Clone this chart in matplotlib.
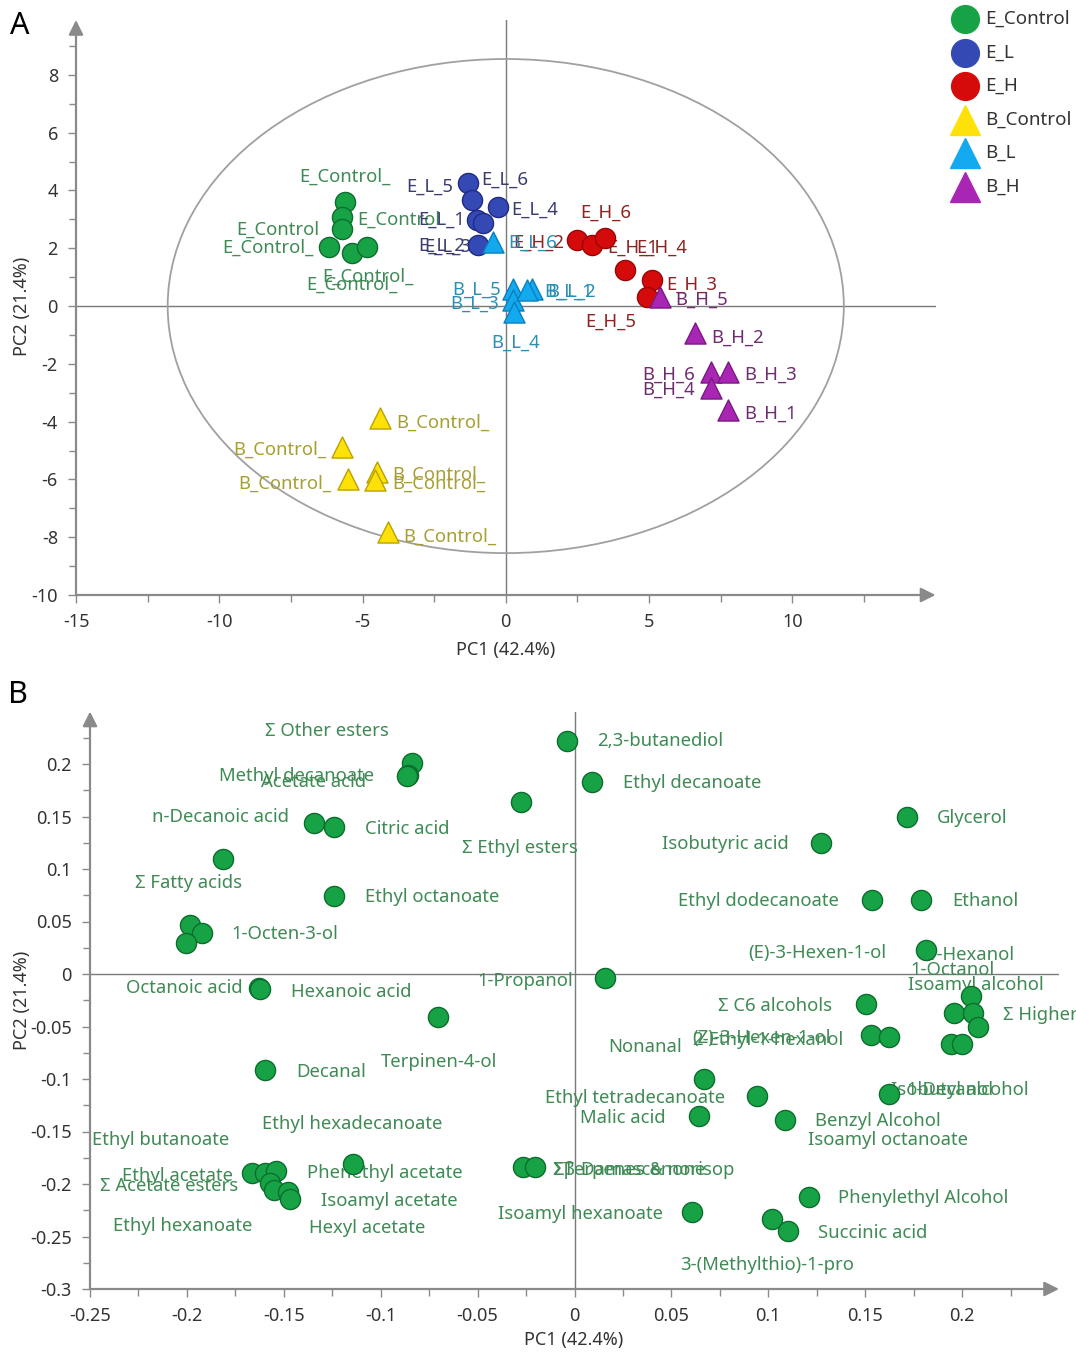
import numpy as np
import matplotlib.pyplot as plt
from matplotlib.lines import Line2D
from matplotlib.patches import Ellipse

plt.rcParams['font.family'] = ['Noto Sans', 'DejaVu Sans']

# ---- Panel A: PCA scores ----
ec_x = [-5.6, -5.7, -5.73, -6.18, -5.37, -4.86]
ec_y = [3.6, 3.08, 2.66, 2.05, 1.83, 2.05]
ec_lab = ['E_Control_', 'E_Control', 'E_Control', 'E_Control_', 'E_Control_', 'E_Control_']

el_x = [-1.33, -1.19, -0.28, -1.0, -0.8, -0.98]
el_y = [4.26, 3.67, 3.43, 2.98, 2.87, 2.11]
el_lab = ['E_L_5', 'E_L_6', 'E_L_4', 'E_L_1', 'E_L_2', 'E_L_3']

eh_x = [2.48, 3.0, 3.46, 4.15, 5.1, 4.92]
eh_y = [2.28, 2.11, 2.35, 1.25, 0.9, 0.31]
eh_lab = ['E_H_2', 'E_H_1', 'E_H_6', 'E_H_4', 'E_H_3', 'E_H_5']

bc_x = [-4.4, -5.72, -5.51, -4.5, -4.57, -4.12]
bc_y = [-3.88, -4.88, -5.99, -5.74, -6.02, -7.82]
bc_lab = ['B_Control_'] * 6

bl_x = [-0.45, 0.25, 0.25, 0.3, 0.9, 0.75]
bl_y = [2.21, 0.6, 0.2, -0.2, 0.6, 0.55]
bl_lab = ['B_L_6', 'B_L_5', 'B_L_3', 'B_L_4', 'B_L_1', 'B_L_2']

bh_x = [5.37, 6.6, 7.18, 7.75, 7.18, 7.75]
bh_y = [0.31, -0.93, -2.28, -2.28, -2.84, -3.6]
bh_lab = ['B_H_5', 'B_H_2', 'B_H_6', 'B_H_3', 'B_H_4', 'B_H_1']

# label offsets (pixels)
ec_off = [(-46, 25), (15, -3), (-105, -1), (-106, -1), (-30, -24), (-60, -38)]
el_off = [(-61, -4), (10, 20), (14, -3), (-59, 0), (-65, -23), (-53, -2)]
eh_off = [(-64, -3), (16, -3), (-25, 25), (12, 22), (14, -5), (-61, -25)]
bc_off = [(17, -5), (-109, -3), (-110, -5), (15, -3), (17, -4), (16, -5)]
bl_off = [(15, -1), (-61, -1), (-63, -3), (-23, -31), (13, -3), (20, -2)]
bh_off = [(16, -3), (16, -5), (-69, -3), (16, -3), (-69, -2), (16, -4)]

# ---- Panel B: loadings ----
ld_names = ['Σ Other esters', 'Methyl decanoate', 'Acetate acid', 'Σ Ethyl esters',
            'n-Decanoic acid', 'Citric acid', 'Σ Fatty acids', 'Ethyl octanoate', '',
            '1-Octen-3-ol', '', 'Octanoic acid', 'Hexanoic acid', 'Terpinen-4-ol',
            'Decanal', 'Ethyl hexadecanoate', 'Ethyl acetate', 'Ethyl butanoate',
            'Phenethyl acetate', 'Σ Acetate esters', 'Ethyl hexanoate', 'Isoamyl acetate',
            'Hexyl acetate', 'Σβ-Damascenone', 'ΣTerpenes & norisop', '2,3-butanediol',
            'Ethyl decanoate', 'Glycerol', 'Isobutyric acid', 'Ethyl dodecanoate',
            'Ethanol', '(E)-3-Hexen-1-ol', '1-Propanol', 'Σ C6 alcohols',
            'Isoamyl alcohol', '1-Octanol', 'Σ Higher alcohols', '1-Hexanol',
            '(Z)-3-Hexen-1-ol', '2-Ethyl-1-hexanol', '1-Decanol', 'Isoamyl octanoate',
            'Nonanal', 'Ethyl tetradecanoate', 'Isobutyl alcohol', 'Malic acid',
            'Benzyl Alcohol', 'Phenylethyl Alcohol', 'Isoamyl hexanoate',
            '3-(Methylthio)-1-pro', 'Succinic acid']
ld_x = [-0.084, -0.086, -0.0862, -0.0277, -0.1342, -0.124, -0.1815, -0.1239, -0.1984,
        -0.1923, -0.2004, -0.1626, -0.1622, -0.0702, -0.1597, -0.1144, -0.1662, -0.1597,
        -0.154, -0.157, -0.1549, -0.148, -0.1468, -0.0264, -0.0203, -0.004,
        0.0092, 0.1714, 0.1272, 0.1534, 0.1789, 0.1816, 0.0157, 0.1506,
        0.2047, 0.1956, 0.2055, 0.2081, 0.1531, 0.1622, 0.1942, 0.1998,
        0.0667, 0.0944, 0.1622, 0.0641, 0.1086, 0.1211, 0.0608, 0.1019, 0.1102]
ld_y = [0.2007, 0.1895, 0.1887, 0.1635, 0.1441, 0.1397, 0.1095, 0.0743, 0.0467,
        0.0387, 0.0298, -0.0137, -0.014, -0.0406, -0.0914, -0.181, -0.1892, -0.1898,
        -0.1873, -0.1993, -0.2057, -0.2073, -0.2146, -0.1835, -0.1841, 0.2222,
        0.1825, 0.1492, 0.1245, 0.0705, 0.0705, 0.0229, -0.0041, -0.0286,
        -0.021, -0.0375, -0.0369, -0.0502, -0.0581, -0.0603, -0.067, -0.067,
        -0.1003, -0.1162, -0.1143, -0.1352, -0.139, -0.2121, -0.2264, -0.2333, -0.2448]
ld_off = [(-147, 32), (-189, -1), (-146, -6), (-59, -46), (-162, 6), (31, -2), (-88, -24),
          (31, -1), (0, 0), (30, -1), (0, 0), (-133, 0), (31, -3), (-58, -45), (31, -2),
          (-91, 40), (-130, -3), (-173, 33), (31, -2), (-170, -3), (-161, -36), (33, -9),
          (19, -29), (30, -3), (18, -3), (30, 0), (31, -1), (30, -1), (-159, -1),
          (-194, -1), (31, -1), (-178, -3), (-128, -3), (-148, -2), (-63, 11), (-43, 43),
          (30, -2), (-51, 72), (-179, -3), (-197, -3), (-45, -46), (-154, -96), (-96, 32),
          (-212, -2), (2, 4), (-119, -2), (30, -1), (29, -1), (-194, -2), (-92, -46),
          (30, -2)]

AXC = '#8a8a8a'
TXT = '#333333'
LFS = 13.3  # point label size


def style_axes(ax):
    for s in ax.spines.values():
        s.set_visible(False)
    ax.axhline(0, color='#7a7a7a', lw=1, zorder=1)
    ax.axvline(0, color='#7a7a7a', lw=1, zorder=1)
    arrow = dict(arrowstyle='-|>', color=AXC, lw=1.6, mutation_scale=22, shrinkA=0, shrinkB=0)
    ax.annotate('', xy=(1, 0), xytext=(0, 0), xycoords='axes fraction', arrowprops=arrow,
                annotation_clip=False, zorder=2)
    ax.annotate('', xy=(0, 1), xytext=(0, 0), xycoords='axes fraction', arrowprops=arrow,
                annotation_clip=False, zorder=2)
    ax.tick_params(which='major', length=6, width=1, color=AXC, labelsize=13,
                   labelcolor=TXT, direction='out', pad=7)
    ax.tick_params(which='minor', length=5, width=1, color=AXC, direction='out')


def draw_group(ax, xs, ys, labs, offs, marker, size, face, edge, tcol):
    ax.scatter(xs, ys, s=size, marker=marker, c=face, edgecolors=edge, linewidths=1, zorder=4)
    for x, y, l, (dx, dy) in zip(xs, ys, labs, offs):
        ax.annotate(l, (x, y), xytext=(dx, dy), textcoords='offset pixels', ha='left',
                    va='center', color=tcol, fontsize=LFS, zorder=3)


fig = plt.figure(figsize=(10.76, 13.55), dpi=100)

# Panel A
ax1 = fig.add_axes([76 / 1076, 1 - 595 / 1355, 859.5 / 1076, 575 / 1355])
ax1.set_xlim(-15, 15)
ax1.set_ylim(-10, 9.9)
style_axes(ax1)
ax1.add_patch(Ellipse((0, 0), 2 * 11.8, 2 * 8.55, fill=False, edgecolor='#a0a0a0', lw=1.3, zorder=1))
ax1.set_xticks([-15, -10, -5, 0, 5, 10])
ax1.set_xticklabels(['-15', '-10', '-5', '0', '5', '10'])
ax1.set_xticks(np.arange(-12.5, 15, 5), minor=True)
ax1.set_yticks([-10, -8, -6, -4, -2, 0, 2, 4, 6, 8])
ax1.set_yticklabels(['-10', '-8', '-6', '-4', '-2', '0', '2', '4', '6', '8'])
ax1.set_yticks(np.arange(-9, 10, 2), minor=True)

draw_group(ax1, ec_x, ec_y, ec_lab, ec_off, 'o', 210, '#17a345', '#0b6e2c', '#3f8a55')
draw_group(ax1, el_x, el_y, el_lab, el_off, 'o', 210, '#3449b3', '#1f2c85', '#3b3d6e')
draw_group(ax1, eh_x, eh_y, eh_lab, eh_off, 'o', 210, '#d50b0b', '#9a0606', '#8e2323')
draw_group(ax1, bc_x, bc_y, bc_lab, bc_off, '^', 230, '#ffe10a', '#b9a200', '#a89f32')
draw_group(ax1, bl_x, bl_y, bl_lab, bl_off, '^', 230, '#12a9ee', '#0a7fc0', '#2a90b3')
draw_group(ax1, bh_x, bh_y, bh_lab, bh_off, '^', 230, '#a926b4', '#7a1a82', '#6e2d70')

fig.text(506 / 1076, 1 - 650 / 1355, 'PC1 (42.4%)', ha='center', va='center', fontsize=13, color=TXT)
fig.text(22 / 1076, 1 - 306 / 1355, 'PC2 (21.4%)', ha='center', va='center', rotation=90,
         fontsize=13, color=TXT)
fig.text(10 / 1076, 1 - 26 / 1355, 'A', ha='left', va='center', fontsize=22, color='black')

# legend
leg_lab = ['E_Control', 'E_L', 'E_H', 'B_Control', 'B_L', 'B_H']
leg_mk = ['o', 'o', 'o', '^', '^', '^']
leg_col = ['#17a345', '#3449b3', '#d50b0b', '#ffe10a', '#12a9ee', '#a926b4']
for i, (l, m, c) in enumerate(zip(leg_lab, leg_mk, leg_col)):
    yy = 1 - (19 + i * 33.5) / 1355
    fig.add_artist(Line2D([965 / 1076], [yy], marker=m, markersize=20 if m == 'o' else 22,
                          color=c, markeredgecolor=c, linestyle='none', transform=fig.transFigure))
    fig.text(985 / 1076, yy, l, ha='left', va='center', fontsize=13.5, color=TXT)

# Panel B
ax2 = fig.add_axes([90 / 1076, 1 - 1289 / 1355, 969 / 1076, 577.5 / 1355])
ax2.set_xlim(-0.25, 0.25)
ax2.set_ylim(-0.3, 0.25)
style_axes(ax2)
xt = [-0.25, -0.2, -0.15, -0.1, -0.05, 0, 0.05, 0.1, 0.15, 0.2]
ax2.set_xticks(xt)
ax2.set_xticklabels(['-0.25', '-0.2', '-0.15', '-0.1', '-0.05', '0', '0.05', '0.1', '0.15', '0.2'])
ax2.set_xticks(np.arange(-0.225, 0.25, 0.05), minor=True)
yt = [-0.3, -0.25, -0.2, -0.15, -0.1, -0.05, 0, 0.05, 0.1, 0.15, 0.2]
ax2.set_yticks(yt)
ax2.set_yticklabels(['-0.3', '-0.25', '-0.2', '-0.15', '-0.1', '-0.05', '0', '0.05', '0.1', '0.15', '0.2'])
ax2.set_yticks(np.arange(-0.275, 0.24, 0.05), minor=True)

draw_group(ax2, ld_x, ld_y, ld_names, ld_off, 'o', 210, '#17a345', '#0b6e2c', '#3f8a55')

fig.text(574 / 1076, 1 - 1340 / 1355, 'PC1 (42.4%)', ha='center', va='center', fontsize=13, color=TXT)
fig.text(22 / 1076, 1 - 1000 / 1355, 'PC2 (21.4%)', ha='center', va='center', rotation=90,
         fontsize=13, color=TXT)
fig.text(8 / 1076, 1 - 695 / 1355, 'B', ha='left', va='center', fontsize=22, color='black')

plt.savefig('out.png', dpi=100)
